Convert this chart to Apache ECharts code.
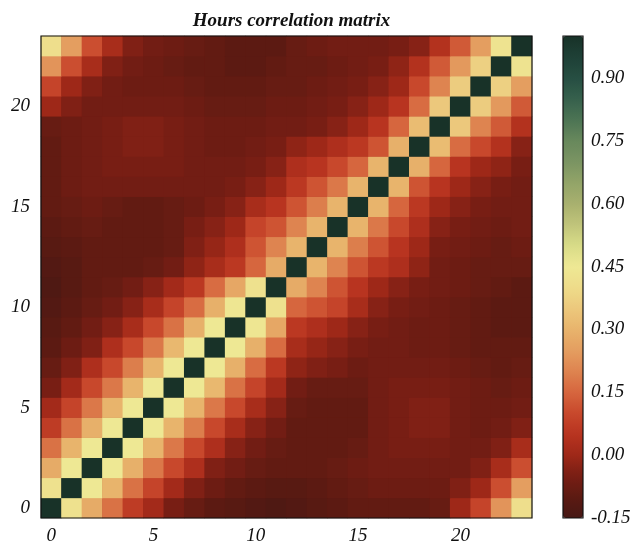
<!DOCTYPE html>
<html>
<head>
<meta charset="utf-8">
<script src="https://cdn.jsdelivr.net/npm/echarts@6/dist/echarts.min.js"></script>
<style>html,body{margin:0;padding:0;background:#fff}#c{width:636px;height:546px}</style>
</head>
<body>
<div id="c"></div>
<script>
// Hours 0..23
const hours = ['0','1','2','3','4','5','6','7','8','9','10','11','12','13','14','15','16','17','18','19','20','21','22','23'];
// Lower triangle of the correlation matrix: row r holds corr(r, 0..r)
const lower = [
  [1],
  [0.42, 1],
  [0.28, 0.45, 1],
  [0.17, 0.30, 0.45, 1],
  [0.07, 0.17, 0.29, 0.45, 1],
  [0.01, 0.09, 0.18, 0.30, 0.45, 1],
  [-0.05, 0.01, 0.10, 0.18, 0.30, 0.45, 1],
  [-0.08, -0.04, 0.03, 0.10, 0.19, 0.30, 0.45, 1],
  [-0.10, -0.07, -0.04, 0.03, 0.10, 0.18, 0.31, 0.45, 1],
  [-0.11, -0.09, -0.06, -0.03, 0.02, 0.10, 0.17, 0.29, 0.45, 1],
  [-0.12, -0.10, -0.08, -0.06, -0.03, 0.02, 0.09, 0.16, 0.29, 0.44, 1],
  [-0.13, -0.11, -0.09, -0.08, -0.06, -0.03, 0.01, 0.06, 0.16, 0.27, 0.42, 1],
  [-0.12, -0.11, -0.09, -0.09, -0.09, -0.08, -0.06, -0.02, 0.02, 0.06, 0.15, 0.28, 1],
  [-0.11, -0.10, -0.09, -0.09, -0.09, -0.09, -0.08, -0.04, -0.01, 0.03, 0.12, 0.20, 0.30, 1],
  [-0.10, -0.09, -0.08, -0.09, -0.09, -0.09, -0.08, -0.05, -0.03, 0.00, 0.09, 0.12, 0.20, 0.30, 1],
  [-0.09, -0.08, -0.07, -0.08, -0.09, -0.09, -0.08, -0.07, -0.05, -0.03, 0.02, 0.05, 0.12, 0.19, 0.30, 1],
  [-0.09, -0.07, -0.06, -0.06, -0.06, -0.06, -0.06, -0.06, -0.06, -0.05, -0.03, 0.00, 0.06, 0.12, 0.18, 0.30, 1],
  [-0.09, -0.07, -0.06, -0.05, -0.05, -0.05, -0.05, -0.06, -0.06, -0.06, -0.05, -0.03, 0.03, 0.05, 0.10, 0.15, 0.30, 1],
  [-0.09, -0.07, -0.06, -0.05, -0.04, -0.04, -0.05, -0.06, -0.07, -0.07, -0.06, -0.05, -0.02, 0.00, 0.03, 0.06, 0.12, 0.29, 1],
  [-0.08, -0.07, -0.06, -0.05, -0.04, -0.04, -0.05, -0.06, -0.07, -0.07, -0.07, -0.06, -0.06, -0.05, -0.03, 0.00, 0.05, 0.15, 0.32, 1],
  [0.00, -0.04, -0.06, -0.06, -0.06, -0.06, -0.06, -0.07, -0.08, -0.08, -0.08, -0.07, -0.07, -0.06, -0.05, -0.03, 0.00, 0.05, 0.16, 0.35, 1],
  [0.09, 0.00, -0.04, -0.06, -0.07, -0.07, -0.07, -0.08, -0.09, -0.09, -0.09, -0.08, -0.08, -0.07, -0.06, -0.05, -0.03, 0.00, 0.10, 0.20, 0.36, 1],
  [0.23, 0.11, 0.02, -0.04, -0.06, -0.07, -0.08, -0.09, -0.09, -0.10, -0.10, -0.09, -0.08, -0.08, -0.07, -0.06, -0.05, -0.02, 0.04, 0.13, 0.24, 0.37, 1],
  [0.41, 0.25, 0.11, 0.02, -0.04, -0.06, -0.07, -0.08, -0.09, -0.10, -0.10, -0.10, -0.08, -0.07, -0.06, -0.06, -0.06, -0.05, -0.03, 0.04, 0.13, 0.25, 0.43, 1]
];
// Colour-bar range and tick step
const cbMin = -0.15, cbMax = 1.0, cbStep = 0.15;
const palette = ['#461814','#5c1a12','#781e14','#9e2818','#b83420','#c8482c','#d6663e','#de8450',
  '#e49e60','#e8b46c','#ecc87c','#eedc8a','#eee894','#d8dc88','#c0c47a','#a8b06e',
  '#92a468','#7a9462','#68885c','#4c7454','#36604c','#264e42','#1e4036','#183228'];

const data = [];
for (let r = 0; r < hours.length; r++) {
  for (let c = 0; c < hours.length; c++) {
    const v = c <= r ? lower[r][c] : lower[c][r];
    data.push([c, r, v]);
  }
}

const font = '"Liberation Serif","DejaVu Serif",serif';
const L = 41, T = 36, W = 491, H = 482;
const CBL = 563, CBW = 20;

const chart = echarts.init(document.getElementById('c'));
chart.setOption({
  animation: false,
  backgroundColor: '#fff',
  title: {
    text: 'Hours correlation matrix',
    left: L + W / 2, top: 7, textAlign: 'center',
    textStyle: { fontFamily: font, fontStyle: 'italic', fontWeight: 'bold', fontSize: 19, color: '#111' }
  },
  grid: [
    { left: L, top: T, width: W, height: H, show: true, backgroundColor: '#6e1e14', borderWidth: 0 },
    { left: CBL, top: T, width: CBW, height: H }
  ],
  xAxis: [
    { type: 'category', data: hours, gridIndex: 0,
      axisLine: { show: false }, axisTick: { show: false }, splitLine: { show: false },
      axisLabel: { interval: 4, margin: 8, fontFamily: font, fontStyle: 'italic', fontSize: 19, color: '#111' } },
    { type: 'value', gridIndex: 1, show: false, min: 0, max: 1 }
  ],
  yAxis: [
    { type: 'category', data: hours, gridIndex: 0,
      axisLine: { show: false }, axisTick: { show: false }, splitLine: { show: false },
      axisLabel: { interval: 4, margin: 11, fontFamily: font, fontStyle: 'italic', fontSize: 19, color: '#111' } },
    { type: 'value', gridIndex: 1, position: 'right', min: cbMin, max: cbMax, interval: cbStep,
      axisLine: { show: false }, axisTick: { show: false }, splitLine: { show: false },
      axisLabel: { showMaxLabel: false, margin: 8, fontFamily: font, fontStyle: 'italic', fontSize: 19, color: '#111',
        formatter: v => v.toFixed(2) } }
  ],
  visualMap: {
    type: 'continuous', min: cbMin, max: cbMax, seriesIndex: 0,
    calculable: false, hoverLink: false, padding: 0,
    left: CBL, top: T, itemWidth: CBW, itemHeight: H,
    inRange: { color: palette }
  },
  series: [{
    type: 'heatmap', xAxisIndex: 0, yAxisIndex: 0, data: data,
    itemStyle: { borderWidth: 0 }, emphasis: { disabled: true }
  }],
  graphic: [
    { type: 'rect', z: 100, shape: { x: L, y: T, width: W, height: H }, style: { fill: null, stroke: '#111', lineWidth: 1.2 } },
    { type: 'rect', z: 100, shape: { x: CBL, y: T, width: CBW, height: H }, style: { fill: null, stroke: '#111', lineWidth: 1.2 } }
  ]
});
</script>
</body>
</html>
